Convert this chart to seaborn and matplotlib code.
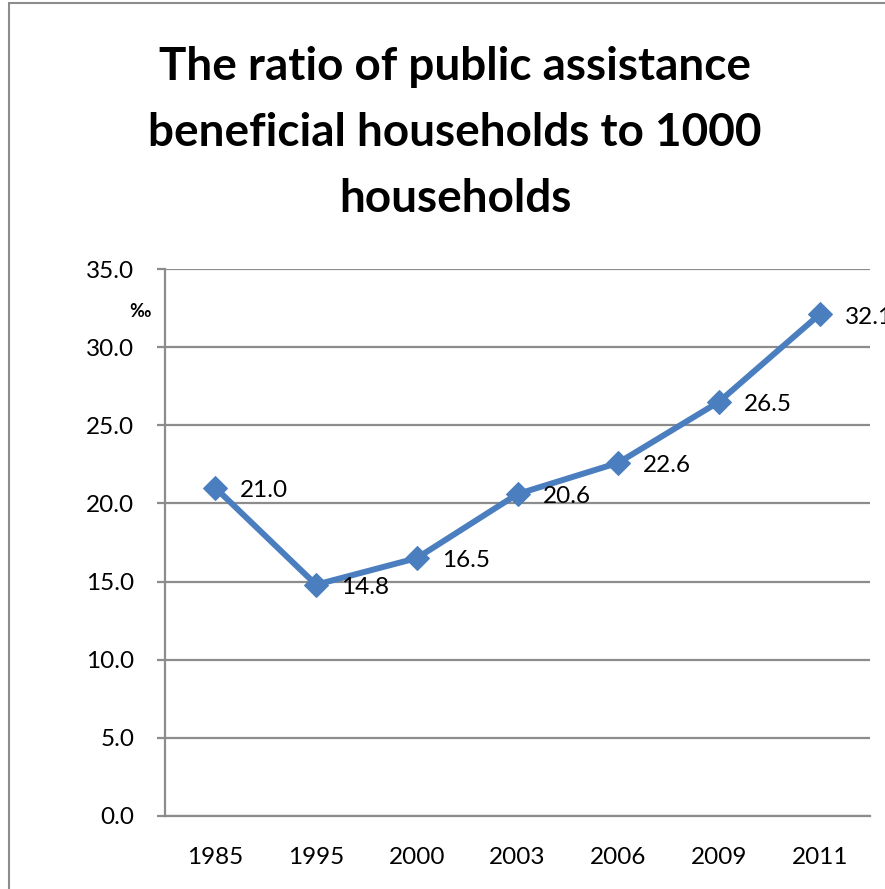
import matplotlib
matplotlib.use("Agg")
import matplotlib.pyplot as plt
from matplotlib.patches import Rectangle
from matplotlib.ticker import FixedLocator, NullFormatter
import seaborn as sns
import pandas as pd

years = ["1985", "1995", "2000", "2003", "2006", "2009", "2011"]
ratio = [21.0, 14.8, 16.5, 20.6, 22.6, 26.5, 32.1]
y_ticks = [0, 5, 10, 15, 20, 25, 30, 35]

title = "The ratio of public assistance\nbeneficial households to 1000\nhouseholds"
unit = "‰"

sns.set_theme(style="white", rc={"text.color": "black", "xtick.color": "black",
                                 "ytick.color": "black", "axes.labelcolor": "black"})
plt.rcParams["font.family"] = ["Lato", "DejaVu Sans"]

df = pd.DataFrame({"year": years, "ratio": ratio})

fig = plt.figure(figsize=(8.85, 8.89), dpi=100)
ax = fig.add_axes([165 / 885, 1 - 816 / 889, (870 - 165) / 885, (816 - 269) / 889])

line_color = "#4A7EBF"
grid_color = "#8C8C8C"

sns.lineplot(data=df, x="year", y="ratio", ax=ax, color=line_color,
             linewidth=4.3, marker="D", markersize=12,
             markeredgecolor=line_color, sort=False)

# data labels to the right of each point
for i, v in enumerate(ratio):
    ax.annotate(f"{v:.1f}", xy=(i, v), xytext=(18, -2), textcoords="offset points",
                ha="left", va="center", fontsize=17.5, color="black",
                annotation_clip=False)

ax.set_xlim(-0.5, len(years) - 0.5)
ax.set_ylim(0, 35)
ax.set_yticks(y_ticks)
ax.set_yticklabels([f"{t:.1f}" for t in y_ticks])
ax.set_xlabel("")
ax.set_ylabel("")

ax.yaxis.grid(True, color=grid_color, linewidth=1.6)
ax.xaxis.grid(False)
ax.set_axisbelow(True)

for side in ["top", "right"]:
    ax.spines[side].set_visible(False)
for side in ["left", "bottom"]:
    ax.spines[side].set_color(grid_color)
    ax.spines[side].set_linewidth(1.6)

# category labels without tick marks; tick marks at category boundaries
ax.tick_params(axis="x", which="major", length=0, pad=22, labelsize=17.5,
               labelcolor="black")
ax.xaxis.set_minor_locator(FixedLocator([i - 0.5 for i in range(len(years) + 1)]))
ax.xaxis.set_minor_formatter(NullFormatter())
ax.tick_params(axis="x", which="minor", length=7, width=1.6, color=grid_color)
ax.tick_params(axis="y", which="major", length=6, width=1.6, color=grid_color,
               labelsize=17.5, pad=16, left=True, labelcolor="black")

ax.text(-0.02, 32.3, unit, transform=ax.get_yaxis_transform(), ha="right",
        va="center", fontsize=13, fontweight="bold", color="black")

fig.text(455 / 885, 1 - 133 / 889, title, ha="center", va="center",
         fontsize=33, fontweight="bold", linespacing=1.7, color="black")

# outer chart frame
fig.patches.append(Rectangle((9 / 885, -0.1), 1.2, 1 - 3 / 889 + 0.1,
                             transform=fig.transFigure, fill=False,
                             edgecolor="#8C8C8C", linewidth=1.5))

fig.savefig("out.png", dpi=100)
